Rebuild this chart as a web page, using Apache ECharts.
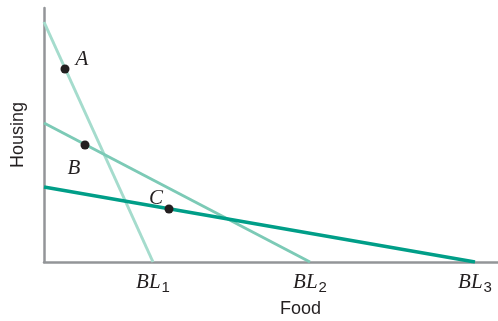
<!DOCTYPE html>
<html><head><meta charset="utf-8">
<script src="https://cdn.jsdelivr.net/npm/echarts@6/dist/echarts.min.js"></script>
<style>html,body{margin:0;padding:0;background:#fff}#c{width:498px;height:321px}</style>
</head><body><div id="c"></div>
<script>
// Budget lines: [food intercept, housing intercept]
var lineNames = ['BL1', 'BL2', 'BL3'];
var housingIntercepts = [240, 139, 75];
var foodIntercepts = [109, 266, 431];
// Points
var pointNames = ['A', 'B', 'C'];
var pointFood = [21, 41, 125];
var pointHousing = [193, 117, 53];
var xName = 'Food';
var yName = 'Housing';

var colors = ['#a5dccd', '#7ccab6', '#009e88'];
var widths = [3, 3, 3.5];

var series = [];
lineNames.forEach(function (n, i) {
  series.push({
    type: 'line', name: n, silent: true, symbol: 'none', z: 2 + i,
    lineStyle: { color: colors[i], width: widths[i] },
    data: [[0, housingIntercepts[i]], [foodIntercepts[i], 0]]
  });
});
series.push({
  type: 'scatter', silent: true, symbol: 'circle', symbolSize: 0, z: 1,
  itemStyle: { opacity: 1 },
  data: lineNames.map(function (n, i) { return { value: [foodIntercepts[i], 0], sub: n.slice(2) }; }),
  label: {
    show: true, position: 'bottom', distance: 7,
    formatter: function (p) { return '{m|BL}{s|' + p.data.sub + '}'; },
    rich: {
      m: { fontFamily: 'Liberation Serif', fontStyle: 'italic', fontSize: 21, color: '#231f20' },
      s: { fontFamily: 'Liberation Sans', fontSize: 15, color: '#231f20', padding: [11, 0, 0, 1] }
    }
  }
});
var pos = [[17, -10], [-11, 23], [-13, -11]];
series.push({
  type: 'scatter', silent: true, symbol: 'circle', symbolSize: 9, z: 10,
  itemStyle: { color: '#231f20', opacity: 1 },
  data: pointNames.map(function (n, i) {
    return { value: [pointFood[i], pointHousing[i]], name: n,
      label: { offset: pos[i] } };
  }),
  label: {
    show: true, position: 'inside', formatter: '{b}',
    fontFamily: 'Liberation Serif', fontStyle: 'italic', fontSize: 21, color: '#231f20'
  }
});

var chart = echarts.init(document.getElementById('c'), null, { renderer: 'canvas' });
chart.setOption({
  animation: false,
  grid: { left: 44, right: 0, top: 8, bottom: 59 },
  xAxis: { type: 'value', min: 0, max: 454, axisLine: { show: true, lineStyle: { color: '#939598', width: 2.5 } },
    axisTick: { show: false }, axisLabel: { show: false }, splitLine: { show: false } },
  yAxis: { type: 'value', min: 0, max: 254, axisLine: { show: true, lineStyle: { color: '#939598', width: 2.5 } },
    axisTick: { show: false }, axisLabel: { show: false }, splitLine: { show: false } },
  graphic: [
    { type: 'text', left: 280, top: 300, style: { text: xName, font: '18px "Liberation Sans"', fill: '#231f20' } },
    { type: 'text', x: 18, y: 135, rotation: Math.PI / 2, style: { text: yName, font: '18px "Liberation Sans"', fill: '#231f20', textAlign: 'center', textVerticalAlign: 'middle' } }
  ],
  series: series
});
</script></body></html>
